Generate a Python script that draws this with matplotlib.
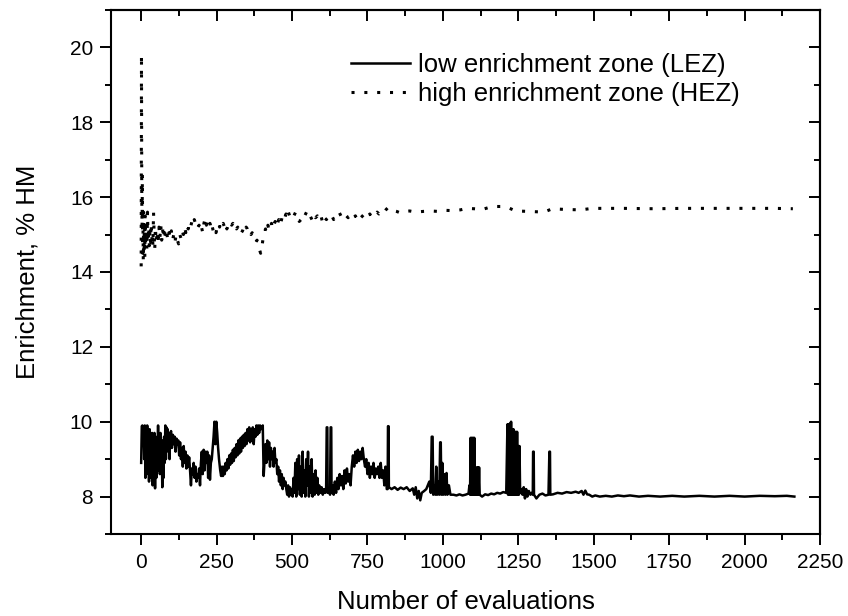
import matplotlib
matplotlib.use("Agg")
import matplotlib.pyplot as plt
from matplotlib.ticker import MultipleLocator

plt.rcParams['font.family'] = ['Liberation Sans', 'DejaVu Sans']

# ---- data ----
lez_pts = [
    (0,8.9),(2,9.88),(4,9.9),(6,9.6),(8,9.85),(10,9.0),(12,9.9),(14,8.5),(16,9.85),(18,8.6),(20,9.9),(22,8.8),
    (24,9.7),(26,8.4),(28,9.8),(30,9.0),(32,9.6),(34,8.5),(36,9.7),(38,8.3),(40,9.5),(42,8.6),(44,9.7),(46,8.22),
    (48,9.6),(50,8.5),(52,9.4),(54,8.8),(56,9.9),(58,8.7),(60,9.5),(62,8.6),(64,9.7),(66,8.9),(68,9.4),(70,8.25),
    (72,9.5),(74,8.5),(76,9.6),(78,8.9),(80,9.9),(82,9.0),(84,9.85),(86,9.3),(88,9.8),(90,9.2),(92,9.7),(94,9.0),
    (96,9.6),
    (99,9.75),(102,9.3),(105,9.65),(108,9.4),(111,9.6),(114,9.2),(117,9.55),(120,9.4),(123,9.5),(126,9.1),(129,9.45),
    (132,9.0),(135,9.3),(138,8.8),(141,9.35),(144,8.9),(147,9.2),(150,8.75),(153,9.1),(156,8.8),(159,9.05),(162,8.7),
    (165,8.3),(168,8.75),(171,8.6),(174,8.9),(177,8.5),(180,8.8),(183,8.4),(186,8.6),(189,8.5),(192,8.75),(195,8.3),
    (198,8.9),(201,9.2),(204,8.6),(207,9.25),(210,8.7),(213,9.2),(216,8.9),(219,9.2),(222,8.5),(225,9.1),(228,8.45),
    (231,8.9),(234,9.0),(237,9.3),
    (240,9.6),(243,10.0),(246,9.4),(249,10.0),(252,9.7),(255,9.3),(258,9.0),
    (262,8.7),(265,8.55),(268,8.8),(271,8.55),
    (274,8.8),(277,8.6),(280,8.9),(283,8.7),(286,9.0),(289,8.75),(292,9.1),(295,8.85),(298,9.15),(301,8.9),
    (304,9.25),(307,8.95),(310,9.3),(313,9.05),(316,9.4),(319,9.1),(322,9.5),(325,9.15),(328,9.55),(331,9.2),
    (334,9.6),(337,9.3),(340,9.65),(343,9.35),(346,9.7),(349,9.4),
    (352,9.8),(355,9.5),(358,9.85),(361,9.45),(364,9.8),(367,9.5),(370,9.85),(373,9.4),(376,9.8),(379,9.6),
    (382,9.9),(385,9.65),(388,9.9),(391,9.7),(394,9.9),(397,9.8),(400,9.85),(403,9.9),
    (406,8.55),(409,9.0),
    (412,9.4),(415,8.9),(418,9.5),(421,9.0),(424,9.45),(427,8.8),(430,9.3),(433,9.0),(436,9.2),(439,8.8),(442,9.3),
    (445,8.9),(448,9.0),
    (451,8.6),(454,8.8),(457,8.4),(460,8.7),(463,8.3),(466,8.6),(469,8.2),(472,8.5),(475,8.3),(478,8.4),(481,8.2),
    (484,8.05),(487,8.3),(490,8.0),(493,8.25),(496,8.05),(499,8.2),(502,8.0),
    (505,8.5),(508,8.1),(511,8.9),(514,8.0),(517,9.0),(520,8.2),(523,9.1),(526,8.05),(529,8.8),(532,8.0),(535,9.2),
    (538,8.1),(541,8.7),(544,8.0),(547,9.0),(550,8.3),(553,9.2),(556,8.0),(559,8.8),(562,8.1),(565,9.0),(568,8.0),
    (572,8.6),(575,8.05),(578,8.7),(581,8.1),(584,8.5),(587,8.05),(590,8.3),(594,8.1),(598,8.25),(602,8.05),
    (606,8.2),(610,8.1),(613,8.2),
    (615,9.85),(617,9.85),(618,8.1),(622,8.2),(626,8.05),(628,9.85),(630,9.85),(631,8.1),
    (635,8.3),(638,8.05),(642,8.4),(646,8.1),(650,8.5),(654,8.2),(658,8.6),(662,8.3),(666,8.55),(670,8.2),(674,8.7),
    (678,8.35),(682,8.75),(686,8.4),(690,8.6),(694,8.3),(698,8.8),
    (702,9.1),(706,8.8),(710,9.2),(714,8.9),(718,9.25),(722,8.95),(726,9.2),(730,9.0),(734,9.3),(738,9.0),
    (742,8.8),(746,9.0),(750,8.6),(754,8.9),(758,8.5),(762,8.8),(766,8.6),(770,8.9),(774,8.5),(778,8.75),(782,8.6),
    (786,8.8),(790,8.5),(794,8.9),(798,8.5),(802,8.7),(806,8.3),(810,8.8),(814,8.2),
    (817,8.2),(818,9.88),(820,9.88),(821,8.25),
    (830,8.2),(840,8.25),(850,8.18),(860,8.24),(870,8.2),(880,8.25),(890,8.15),(900,8.22),(905,8.05),(910,8.25),
    (915,7.95),(920,8.15),(925,7.9),(930,8.1),(938,8.15),(945,8.2),
    (950,8.3),(955,8.4),(960,8.1),(963,9.6),(966,9.6),(968,8.05),(972,8.3),(975,8.05),(978,8.8),(981,8.05),
    (985,8.4),(988,8.05),(991,9.45),(993,9.45),(995,8.05),(998,8.9),(1001,8.05),(1005,8.6),(1008,8.05),(1012,8.63),
    (1015,8.05),(1020,8.3),(1025,8.05),
    (1035,8.05),(1045,8.03),(1055,8.06),(1065,8.03),(1075,8.05),(1085,8.08),(1088,8.3),(1090,8.05),
    (1092,9.57),(1094,8.05),(1096,9.57),(1098,8.05),(1100,9.57),(1102,8.05),(1104,9.57),(1106,8.05),(1108,8.63),
    (1110,8.05),(1112,8.78),(1114,8.05),(1116,8.78),(1118,8.05),(1120,8.78),(1122,8.05),
    (1130,8.0),(1140,8.06),(1150,8.04),(1160,8.08),(1170,8.06),(1180,8.1),(1190,8.08),(1200,8.12),(1210,8.1),
    (1214,9.93),(1216,8.05),(1218,9.93),(1220,8.05),(1222,9.95),(1224,8.05),(1226,10.0),(1228,8.05),(1230,9.8),
    (1232,8.05),(1234,9.8),(1236,8.05),(1238,9.73),(1240,8.05),(1242,9.73),(1244,8.05),(1246,9.73),(1248,8.05),
    (1250,9.35),(1252,8.05),(1254,9.35),(1256,8.1),
    (1260,8.2),(1264,8.05),(1268,8.25),(1272,7.95),(1276,8.2),(1280,8.0),(1285,8.15),(1290,8.05),(1295,8.1),
    (1298,8.05),(1299,9.2),(1301,9.2),(1302,8.05),(1310,7.95),(1320,8.05),(1330,8.08),(1340,8.03),(1350,8.05),
    (1353,9.2),(1355,9.2),(1356,8.05),(1365,8.06),(1380,8.1),(1395,8.08),(1410,8.12),(1425,8.1),(1440,8.13),
    (1450,8.1),(1460,8.15),(1466,8.05),(1472,8.16),(1478,8.06),(1485,8.05),(1495,8.0),(1505,8.03),(1520,8.0),
    (1540,8.02),(1560,8.0),(1580,8.03),(1600,8.01),(1620,8.03),(1650,8.0),(1680,8.02),(1720,8.0),(1760,8.02),
    (1800,8.0),(1850,8.02),(1900,8.0),(1950,8.02),(2000,8.0),(2050,8.02),(2100,8.01),(2140,8.02),(2165,8.0),
]
lez_x = [p[0] for p in lez_pts]
lez_y = [p[1] for p in lez_pts]

hez_pts = [
    (0,14.15),(1,19.8),(2,16.0),(3,15.2),(4,16.6),(5,14.5),(6,15.3),(7,14.3),(8,15.6),(9,14.6),(10,15.0),
    (12,14.4),(13,15.5),(15,14.7),(17,15.3),(19,14.6),(21,15.6),(23,14.8),(25,15.2),(27,14.7),(29,15.1),(31,14.8),
    (33,15.3),(35,14.85),(37,15.0),(39,14.7),(41,15.6),(43,15.0),(45,14.6),(47,15.2),(50,14.8),(53,15.1),(56,14.75),
    (59,15.2),(62,14.9),(65,15.25),(68,14.85),(71,15.15),(74,14.9),(77,15.2),(80,14.95),(84,15.1),(88,14.85),
    (92,15.05),(96,14.9),(100,15.1),(104,14.85),(108,15.0),(112,14.8),(116,15.0),(120,14.85),(124,14.75),(128,15.0),
    (132,14.9),(136,15.1),(140,15.0),(144,15.2),(148,15.05),(152,15.25),(156,15.15),(160,15.3),(164,15.2),
    (168,15.35),(172,15.25),(176,15.4),(180,15.3),(184,15.35),(188,15.2),(192,15.25),(196,15.1),(200,15.2),
    (204,15.05),(208,15.3),(212,15.43),(216,15.25),(220,15.35),(224,15.2),(228,15.3),(232,15.1),(236,15.2),
    (240,15.05),(244,15.15),(248,15.05),(252,15.2),(256,15.3),(260,15.2),(264,15.35),(268,15.25),(272,15.3),
    (276,15.2),(280,15.3),(284,15.15),(288,15.25),(292,15.3),(296,15.35),(300,15.25),(304,15.3),(308,15.2),
    (312,15.25),(316,15.15),(320,15.2),(324,15.1),(328,15.15),(332,15.05),(336,15.1),(340,15.2),(344,15.1),
    (348,15.2),(352,15.15),(356,15.05),(360,15.1),(364,15.0),(368,15.05),(372,14.95),(376,14.9),(380,14.8),
    (384,14.85),(388,14.7),(392,14.6),(396,14.5),(400,14.65),(404,14.9),(408,15.0),(412,15.15),(416,15.05),
    (420,15.25),(424,15.1),(428,15.2),(432,15.3),(436,15.15),(440,15.25),(444,15.35),(448,15.2),(452,15.3),
    (456,15.4),(460,15.25),(464,15.35),(468,15.5),(472,15.4),(476,15.45),(480,15.55),(484,15.45),(488,15.6),
    (492,15.5),(496,15.6),(500,15.55),(506,15.5),(512,15.6),(518,15.45),(524,15.35),(530,15.4),(536,15.55),
    (542,15.5),(548,15.6),(554,15.45),(560,15.5),(566,15.4),(572,15.55),(578,15.45),(584,15.5),(590,15.4),
    (596,15.5),(602,15.3),(608,15.45),(614,15.4),(620,15.5),(626,15.45),(632,15.5),(638,15.4),(644,15.5),
    (650,15.55),(656,15.6),(662,15.5),(668,15.55),(674,15.45),(680,15.5),(686,15.45),(692,15.55),(698,15.5),
    (704,15.45),(710,15.5),(716,15.4),(722,15.5),(728,15.45),(734,15.5),(740,15.55),(746,15.45),(752,15.5),
    (758,15.55),(764,15.45),(770,15.5),(776,15.55),(782,15.6),(788,15.55),(794,15.6),(800,15.55),(806,15.6),
    (812,15.67),(818,15.72),(826,15.66),(836,15.64),(846,15.62),(859,15.58),(875,15.62),(890,15.63),(910,15.6),
    (937,15.62),(960,15.63),(981,15.62),(1000,15.65),(1030,15.64),(1058,15.66),(1080,15.7),(1103,15.69),
    (1130,15.67),(1164,15.75),(1197,15.75),(1219,15.71),(1241,15.63),(1280,15.62),(1335,15.6),(1363,15.69),
    (1407,15.67),(1457,15.66),(1495,15.7),(1600,15.7),(1700,15.69),(1800,15.7),(1900,15.7),(2000,15.7),
    (2100,15.7),(2160,15.69),
]
hez_x = [p[0] for p in hez_pts]
hez_y = [p[1] for p in hez_pts]

labels = ["low enrichment zone (LEZ)", "high enrichment zone (HEZ)"]
x_ticks = [0, 250, 500, 750, 1000, 1250, 1500, 1750, 2000, 2250]
y_ticks = [8, 10, 12, 14, 16, 18, 20]

# ---- figure ----
fig = plt.figure(figsize=(8.48, 6.16), dpi=100)
ax = fig.add_axes([0.1309, 0.1331, 0.967 - 0.1309, 0.9838 - 0.1331])

ax.plot(lez_x, lez_y, color='black', lw=1.8, label=labels[0])
ax.plot(hez_x, hez_y, color='black', lw=2.2, dashes=(1.0, 3.2), label=labels[1])

ax.set_xlim(-100, 2250)
ax.set_ylim(7, 21)
ax.set_xticks(x_ticks)
ax.set_yticks(y_ticks)
ax.xaxis.set_minor_locator(MultipleLocator(125))
ax.yaxis.set_minor_locator(MultipleLocator(1))

for s in ax.spines.values():
    s.set_linewidth(1.5)

ax.tick_params(which='major', length=7.8, width=1.4, labelsize=15, direction='out')
ax.tick_params(axis='x', which='major', pad=6)
ax.tick_params(axis='y', which='major', pad=5)
ax.tick_params(which='minor', length=4, width=1.4, direction='out')
ax.tick_params(top=False, right=False)
axt = ax.secondary_xaxis('top')
axt.set_xticks(x_ticks)
axt.xaxis.set_minor_locator(MultipleLocator(125))
axt.tick_params(which='major', direction='in', length=7.8, width=1.4, labeltop=False)
axt.tick_params(which='minor', direction='in', length=4, width=1.4)
axt.spines['top'].set_linewidth(1.5)
axr = ax.secondary_yaxis('right')
axr.set_yticks(y_ticks)
axr.yaxis.set_minor_locator(MultipleLocator(1))
axr.tick_params(which='major', direction='in', length=7.8, width=1.4, labelright=False)
axr.tick_params(which='minor', direction='in', length=4, width=1.4)
axr.spines['right'].set_linewidth(1.5)

ax.set_xlabel("Number of evaluations", fontsize=18.5, labelpad=13)
ax.set_ylabel("Enrichment, % HM", fontsize=18.5, labelpad=22)

leg = ax.legend(loc='upper right', bbox_to_anchor=(0.901, 0.937), frameon=False, fontsize=18.5,
                handlelength=2.3, handletextpad=0.3, labelspacing=0.19, borderaxespad=0)

fig.savefig("out.png", dpi=100)
